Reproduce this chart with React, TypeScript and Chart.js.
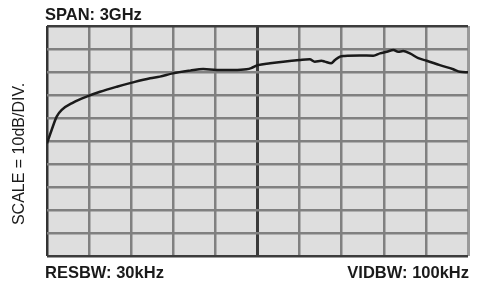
import React, { useEffect, useRef } from "react";
import { Chart, registerables } from "chart.js";

Chart.register(...registerables);

const freqMHz = [0, 33, 69, 105, 186, 282, 378, 498, 612, 735, 804, 897, 1020, 1113, 1209, 1326, 1422, 1455, 1503, 1590, 1683, 1800, 1872, 1908, 1956, 1980, 2025, 2052, 2088, 2121, 2229, 2325, 2373, 2421, 2469, 2502, 2538, 2586, 2646, 2706, 2799, 2895, 2943, 3000];
const levelDb = [-51, -45.2, -39.4, -36.5, -33.3, -30.7, -28.6, -26.4, -24.5, -22.7, -22.0, -20.6, -19.4, -18.7, -19.1, -19.1, -18.8, -18.3, -17.0, -16.2, -15.5, -14.8, -14.5, -15.5, -15.1, -15.5, -16.2, -14.8, -13.3, -13.0, -12.8, -12.9, -11.9, -11.2, -10.4, -11.2, -10.9, -11.9, -14.0, -15.1, -17.0, -18.8, -19.9, -20.1];

const spanLabel = "SPAN: 3GHz";
const scaleLabel = "SCALE = 10dB/DIV.";
const resLabel = "RESBW: 30kHz";
const vidLabel = "VIDBW: 100kHz";

const xMin = 0, xMax = 3000, xStep = 300;
const yMin = -100, yMax = 0, yStep = 10;

const labelsPlugin = {
  id: "analyzerLabels",
  afterDraw(chart: any) {
    const { ctx, chartArea } = chart;
    ctx.save();
    ctx.fillStyle = "#1a1a1a";
    ctx.textBaseline = "alphabetic";
    ctx.font = "bold 16.5px 'Liberation Sans', Arial, sans-serif";
    ctx.textAlign = "left";
    ctx.fillText(spanLabel, chartArea.left - 2, 20);
    ctx.fillText(resLabel, chartArea.left - 2, 278);
    ctx.textAlign = "right";
    ctx.fillText(vidLabel, chartArea.right + 1, 278);
    ctx.font = "16px 'Liberation Sans', Arial, sans-serif";
    ctx.textAlign = "center";
    ctx.translate(24, (chartArea.top + chartArea.bottom) / 2 + 13);
    ctx.rotate(-Math.PI / 2);
    ctx.fillText(scaleLabel, 0, 0);
    ctx.restore();
  },
};

export default function App() {
  const ref = useRef<HTMLCanvasElement>(null);
  useEffect(() => {
    if (!ref.current) return;
    const chart = new Chart(ref.current, {
      type: "line",
      data: {
        datasets: [
          {
            data: freqMHz.map((f, i) => ({ x: f, y: levelDb[i] })),
            borderColor: "#1a1a1a",
            borderWidth: 2.5,
            pointRadius: 0,
            cubicInterpolationMode: "monotone",
            fill: false,
          },
        ],
      },
      options: {
        responsive: false,
        animation: false,
        layout: { padding: { left: 47, top: 26, right: 10, bottom: 26 } },
        plugins: { legend: { display: false }, tooltip: { enabled: false } },
        scales: {
          x: {
            type: "linear",
            min: xMin,
            max: xMax,
            ticks: { display: false, stepSize: xStep },
            grid: {
              drawTicks: false,
              lineWidth: (c: any) => (c.tick && (c.tick.value === 1500 || c.tick.value === 3000) ? 3 : 2.5),
              color: (c: any) => {
                const v = c.tick ? c.tick.value : -1;
                if (v === 1500) return "#3a3a3a";
                if (v === 0) return "#333333";
                if (v === 3000) return "#9a9a9a";
                return "#808080";
              },
            },
            border: { display: false },
            afterFit: (s: any) => { s.height = 0; },
          },
          y: {
            type: "linear",
            min: yMin,
            max: yMax,
            ticks: { display: false, stepSize: yStep },
            grid: {
              drawTicks: false,
              lineWidth: 2.5,
              color: (c: any) => {
                const v = c.tick ? c.tick.value : 1;
                if (v === yMin || v === yMax) return "#3c3c3c";
                return "#808080";
              },
            },
            border: { display: false },
            afterFit: (s: any) => { s.width = 0; },
          },
        },
      },
      plugins: [
        {
          id: "bg",
          beforeDraw(chart: any) {
            const { ctx, chartArea } = chart;
            ctx.save();
            ctx.fillStyle = "#dedede";
            ctx.fillRect(chartArea.left, chartArea.top, chartArea.right - chartArea.left, chartArea.bottom - chartArea.top);
            ctx.restore();
          },
        },
        labelsPlugin,
      ],
    } as any);
    return () => chart.destroy();
  }, []);
  return (
    <div style={{ position: "absolute", left: 0, top: 0, width: 478, height: 282, background: "#fff" }}>
      <canvas ref={ref} width={478} height={282} style={{ width: 478, height: 282, display: "block" }} />
    </div>
  );
}
